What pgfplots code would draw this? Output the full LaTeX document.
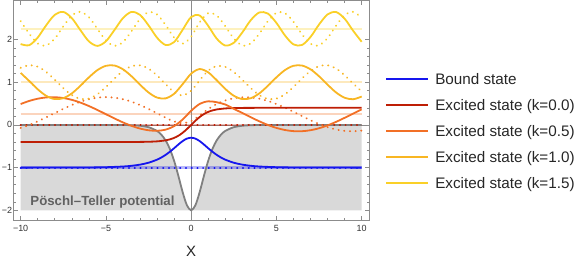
\documentclass[border=0pt]{standalone}
\usepackage{fontspec}
\setmainfont{Liberation Sans}
\usepackage{pgfplots}
\pgfplotsset{compat=1.18}
\definecolor{cbound}{RGB}{22,22,238}
\definecolor{ck0}{RGB}{190,30,5}
\definecolor{ck05}{RGB}{242,112,38}
\definecolor{ck10}{RGB}{248,182,35}
\definecolor{ck15}{RGB}{250,208,40}
\definecolor{cpot}{RGB}{128,128,128}
\definecolor{cfill}{RGB}{217,217,217}
\begin{document}
\begin{tikzpicture}
\useasboundingbox (-13.3bp,-42bp) rectangle (567.7bp,220.3bp);
\begin{axis}[
  at={(0,0)}, anchor=south west,
  scale only axis, width=355.7bp, height=220bp,
  xmin=-10.43, xmax=10.43, ymin=-2.234, ymax=2.918,
  xtick={-10,-5,0,5,10}, xticklabels={−10,−5,0,5,10},
  ytick={-2,-1,0,1,2}, yticklabels={−2,−1,0,1,2},
  minor x tick num=4, minor y tick num=4,
  tick align=inside,
  major tick length=4.5bp, minor tick length=2.5bp,
  axis line style={black!45, line width=0.6bp},
  every tick/.style={black!45, line width=0.5bp},
  ticklabel style={font=\fontsize{9}{10}\selectfont, text=black!80},
  xticklabel style={yshift=-1.5bp},
  yticklabel style={inner sep=1bp},
  xlabel={X},
  xlabel style={font=\fontsize{15}{16}\selectfont, text=black!85, at={(axis description cs:0.5,-0.141)}, anchor=center},
  legend style={
    at={(axis description cs:1.045,0.397)}, anchor=west,
    draw=none, fill=none, inner sep=0pt, outer sep=0pt,
    font=\fontsize{15.3}{16}\selectfont, text=black!85,
    row sep=11.7bp,
    nodes={inner sep=0pt, text height=11bp, text depth=3.3bp},
    /tikz/every odd column/.append style={column sep=6.6bp},
  },
  legend cell align=left,
  legend image code/.code={\draw[#1, line width=2bp] (0bp,0.45ex) -- (41.7bp,0.45ex);},
]
% filled potential region
\addplot[draw=none, fill=cfill, forget plot] coordinates {
(-10,-2) (-10,0) (-5,-0.0004) (-4,-0.0027) (-3.5,-0.0073) (-3,-0.0197) (-2.5,-0.0532) (-2,-0.1413) (-1.75,-0.2276) (-1.5,-0.3614) (-1.25,-0.5608) (-1,-0.8399) (-0.75,-1.1932) (-0.5,-1.5729) (-0.25,-1.88) (0,-2) (0.25,-1.88) (0.5,-1.5729) (0.75,-1.1932) (1,-0.8399) (1.25,-0.5608) (1.5,-0.3614) (1.75,-0.2276) (2,-0.1413) (2.5,-0.0532) (3,-0.0197) (3.5,-0.0073) (4,-0.0027) (5,-0.0004) (10,0) (10,-2)
} -- cycle;
% axes through origin
\draw[black!45, line width=0.6bp] (axis cs:0,-2.234) -- (axis cs:0,2.918);
\draw[black!45, line width=0.6bp] (axis cs:-10.43,0) -- (axis cs:10.43,0);
% energy levels
\addplot[ck15, opacity=0.3, line width=2.5bp, forget plot] coordinates {(-10,2.25) (10,2.25)};
\addplot[ck10, opacity=0.3, line width=2.5bp, forget plot] coordinates {(-10,1) (10,1)};
\addplot[ck05, opacity=0.3, line width=2.5bp, forget plot] coordinates {(-10,0.25) (10,0.25)};
\addplot[ck0, opacity=0.3, line width=2.5bp, forget plot] coordinates {(-10,0) (10,0)};
\addplot[cbound, opacity=0.3, line width=2.5bp, forget plot] coordinates {(-10,-1) (10,-1)};
% potential curve
\addplot[cpot, line width=1.8bp, smooth, forget plot] coordinates {
(-10,0) (-7.5,0) (-5,-0.0004) (-4,-0.0027) (-3.5,-0.0073) (-3,-0.0197) (-2.5,-0.0532) (-2,-0.1413) (-1.75,-0.2276) (-1.5,-0.3614) (-1.25,-0.5608) (-1,-0.8399) (-0.75,-1.1932) (-0.5,-1.5729) (-0.25,-1.88) (0,-2) (0.25,-1.88) (0.5,-1.5729) (0.75,-1.1932) (1,-0.8399) (1.25,-0.5608) (1.5,-0.3614) (1.75,-0.2276) (2,-0.1413) (2.5,-0.0532) (3,-0.0197) (3.5,-0.0073) (4,-0.0027) (5,-0.0004) (7.5,0) (10,0)
};
% dotted (imaginary parts)
\addplot[cbound, line width=2bp, line cap=round, dash pattern=on 0.2bp off 5.5bp, forget plot] coordinates {(-10,-1) (10,-1)};
\addplot[ck0, line width=2bp, line cap=round, dash pattern=on 0.2bp off 5.5bp, forget plot] coordinates {(-10,0) (10,0)};
\addplot[ck05, line width=2bp, line cap=round, dash pattern=on 0.2bp off 5.5bp, smooth, forget plot] coordinates {
(-10,-0.0709) (-9.5,-0.0019) (-9,0.0828) (-8.5,0.1780) (-8,0.2775) (-7.5,0.3754) (-7,0.4655) (-6.5,0.5422) (-6,0.6007) (-5.5,0.6374) (-5,0.65) (-4.5,0.6378) (-4,0.6014) (-3.5,0.5432) (-3,0.4652) (-2.5,0.3735) (-2,0.2725) (-1.5,0.1699) (-1,0.0811) (-0.5,0.0401) (0,0.09) (0.5,0.2230) (1,0.3717) (1.5,0.4909) (2,0.5738) (2.5,0.6249) (3,0.6474) (3.5,0.6436) (4,0.6137) (4.5,0.5612) (5,0.4894) (5.5,0.4027) (6,0.3064) (6.5,0.2067) (7,0.1097) (7.5,0.0214) (8,-0.0527) (8.5,-0.108) (9,-0.141) (9.5,-0.1497) (10,-0.1336)
};
\addplot[ck10, line width=2bp, line cap=round, dash pattern=on 0.2bp off 5.5bp, smooth, forget plot] coordinates {
(-10,1.3356) (-9.5,1.3989) (-9,1.3645) (-8.5,1.2408) (-8,1.0582) (-7.5,0.8613) (-7,0.6984) (-6.5,0.6094) (-6,0.6159) (-5.5,0.7165) (-5,0.8865) (-4.5,1.0843) (-4,1.2615) (-3.5,1.3746) (-3,1.3949) (-2.5,1.3167) (-2,1.1569) (-1.5,0.9541) (-1,0.7695) (-0.5,0.6918) (0,0.8) (0.5,1.0458) (1,1.2707) (1.5,1.3787) (2,1.3602) (2.5,1.2399) (3,1.0573) (3.5,0.8597) (4,0.6973) (4.5,0.6090) (5,0.6164) (5.5,0.7178) (6,0.8882) (6.5,1.0860) (7,1.2628) (7.5,1.3752) (8,1.3957) (8.5,1.3194) (9,1.1648) (9.5,0.9699) (10,0.7824)
};
\addplot[ck15, line width=2bp, line cap=round, dash pattern=on 0.2bp off 5.5bp, smooth, forget plot] coordinates {
(-10,2.4305) (-9.5,2.1387) (-9,1.9067) (-8.5,1.8589) (-8,2.021) (-7.5,2.306) (-7,2.5609) (-6.5,2.649) (-6,2.523) (-5.5,2.2505) (-5,1.9777) (-4.5,1.851) (-4,1.9385) (-3.5,2.1931) (-3,2.4786) (-2.5,2.6398) (-2,2.5866) (-1.5,2.3422) (-1,2.0455) (-0.5,1.9025) (0,2.0654) (0.5,2.4049) (1,2.6166) (1.5,2.5631) (2,2.3124) (2.5,2.0243) (3,1.8598) (3.5,1.9064) (4,2.1382) (4.5,2.43) (5,2.6252) (5.5,2.619) (6,2.4148) (6.5,2.1222) (7,1.8981) (7.5,1.8629) (8,2.0354) (8.5,2.323) (9,2.5715) (9.5,2.6475) (10,2.5101)
};
% solid (real parts)
\addplot[cbound, line width=1.8bp, smooth] coordinates {
(-10,-1) (-8,-0.9995) (-7,-0.9987) (-6,-0.9965) (-5,-0.9906) (-4,-0.9744) (-3.5,-0.9578) (-3,-0.9305) (-2.5,-0.8859) (-2,-0.8139) (-1.75,-0.7638) (-1.5,-0.7024) (-1.25,-0.6293) (-1,-0.5464) (-0.75,-0.4593) (-0.5,-0.3792) (-0.25,-0.3213) (0,-0.3) (0.25,-0.3213) (0.5,-0.3792) (0.75,-0.4593) (1,-0.5464) (1.25,-0.6293) (1.5,-0.7024) (1.75,-0.7638) (2,-0.8139) (2.5,-0.8859) (3,-0.9305) (3.5,-0.9578) (4,-0.9744) (5,-0.9906) (6,-0.9965) (7,-0.9987) (8,-0.9995) (10,-1)
};
\addlegendentry{Bound state}
\addplot[ck0, line width=1.8bp, smooth] coordinates {
(-10,-0.4) (-5,-0.4) (-4,-0.3997) (-3,-0.398) (-2.5,-0.3946) (-2,-0.3856) (-1.5,-0.3621) (-1.25,-0.3393) (-1,-0.3046) (-0.75,-0.2541) (-0.5,-0.1848) (-0.25,-0.098) (0,0) (0.25,0.098) (0.5,0.1848) (0.75,0.2541) (1,0.3046) (1.25,0.3393) (1.5,0.3621) (2,0.3856) (2.5,0.3946) (3,0.398) (4,0.3997) (5,0.4) (10,0.4)
};
\addlegendentry{Excited state (k=0.0)}
\addplot[ck05, line width=1.8bp, smooth] coordinates {
(-10,0.4888) (-9.5,0.5607) (-9,0.6134) (-8.5,0.6435) (-8,0.6490) (-7.5,0.6298) (-7,0.5870) (-6.5,0.5232) (-6,0.4424) (-5.5,0.3497) (-5,0.2508) (-4.5,0.1518) (-4,0.0589) (-3.5,-0.0221) (-3,-0.0853) (-2.5,-0.1260) (-2,-0.1379) (-1.5,-0.1112) (-1,-0.0288) (-0.5,0.1264) (0,0.33) (0.5,0.4921) (1,0.5524) (1.5,0.5308) (2,0.4775) (2.5,0.3768) (3,0.279) (3.5,0.1787) (4,0.0835) (4.5,-0.0013) (5,-0.0705) (5.5,-0.1197) (6,-0.146) (6.5,-0.1477) (7,-0.1246) (7.5,-0.0782) (8,-0.0115) (8.5,0.0715) (9,0.1657) (9.5,0.265) (10,0.3635)
};
\addlegendentry{Excited state (k=0.5)}
\addplot[ck10, line width=1.8bp, smooth] coordinates {
(-10,1.2176) (-9.5,1.0301) (-9,0.8352) (-8.5,0.6806) (-8,0.6043) (-7.5,0.6248) (-7,0.7372) (-6.5,0.9140) (-6,1.1118) (-5.5,1.2822) (-5,1.3836) (-4.5,1.3910) (-4,1.3027) (-3.5,1.1403) (-3,0.9427) (-2.5,0.7601) (-2,0.6398) (-1.5,0.6213) (-1,0.7293) (-0.5,0.9542) (0,1.2) (0.5,1.3082) (1,1.2305) (1.5,1.0459) (2,0.8431) (2.5,0.6833) (3,0.6051) (3.5,0.6254) (4,0.7385) (4.5,0.9157) (5,1.1135) (5.5,1.2835) (6,1.3841) (6.5,1.3906) (7,1.3016) (7.5,1.1387) (8,0.9418) (8.5,0.7592) (9,0.6355) (9.5,0.6011) (10,0.6644)
};
\addlegendentry{Excited state (k=1.0)}
\addplot[ck15, line width=1.8bp, smooth] coordinates {
(-10,1.8930) (-9.5,1.8658) (-9,2.0447) (-8.5,2.3338) (-8,2.5779) (-7.5,2.6461) (-7,2.5016) (-6.5,2.2222) (-6,1.9577) (-5.5,1.85) (-5,1.957) (-4.5,2.2212) (-4,2.5009) (-3.5,2.6459) (-3,2.5775) (-2.5,2.332) (-2,2.0421) (-1.5,1.8724) (-1,1.9386) (-0.5,2.227) (0,2.5269) (0.5,2.5619) (1,2.3201) (1.5,2.0197) (2,1.8593) (2.5,1.9217) (3,2.1649) (3.5,2.4548) (4,2.6341) (4.5,2.6072) (5,2.3887) (5.5,2.0957) (6,1.8855) (6.5,1.871) (7,2.0598) (7.5,2.3507) (8,2.5875) (8.5,2.6433) (9,2.488) (9.5,2.205) (10,1.9461)
};
\addlegendentry{Excited state (k=1.5)}
\node[font=\bfseries\fontsize{13.3}{14}\selectfont, text=black!62] at (axis cs:-5.2,-1.8) {Pöschl–Teller potential};
\end{axis}
\end{tikzpicture}
\end{document}
